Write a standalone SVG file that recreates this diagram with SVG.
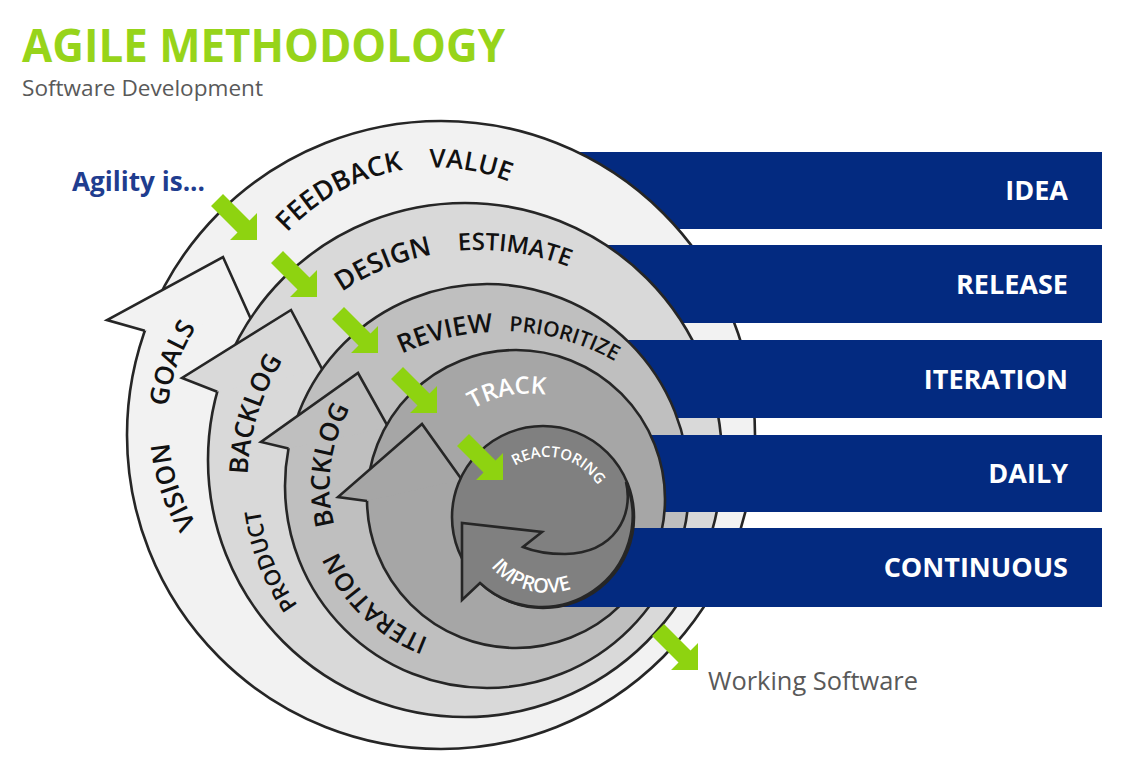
<svg xmlns="http://www.w3.org/2000/svg" width="1133" height="782" viewBox="0 0 1133 782">
<defs>
<style>
.ring{stroke:#262626;stroke-width:2.6}
.edge{fill:none;stroke:#262626;stroke-width:2.6;stroke-linejoin:miter}
.nf{stroke:none}
.l1{fill:#f2f2f2}.l2{fill:#d9d9d9}.l3{fill:#bfbfbf}.l4{fill:#a6a6a6}.l5{fill:#808080}
.bar{fill:#032a80}
.bartxt{font-family:"Open Sans","Liberation Sans",sans-serif;font-weight:700;font-size:27px;fill:#fff;text-anchor:end}
.lbl{font-family:"Open Sans","Liberation Sans",sans-serif;font-weight:600;fill:#111;text-anchor:middle}
.wl{fill:#fff}
.garrow{fill:#8ed310}
</style>
<path id="ga" d="M0,0 L-27,0 L-19.5,-7.5 L-46,-34 L-34,-46 L-7.5,-19.5 L0,-27 Z"/>
<path id="p200" d="M-188.41,-68.58 A200.5,200.5 0 0 1 188.41,-68.58"/>
<path id="p182" d="M-171.49,-62.42 A182.5,182.5 0 0 1 171.49,-62.42"/>
<path id="p245" d="M-230.22,-83.79 A245,245 0 0 1 230.22,-83.79"/>
<path id="p226" d="M-212.84,-77.47 A226.5,226.5 0 0 1 212.84,-77.47"/>
<path id="p218" d="M-204.85,-74.56 A218,218 0 0 1 204.85,-74.56"/>
<path id="p232" d="M-218.01,-79.35 A232,232 0 0 1 218.01,-79.35"/>
<path id="p233" d="M-218.95,-79.69 A233,233 0 0 1 218.95,-79.69"/>
<path id="p157" d="M-148,-53.87 A157.5,157.5 0 0 1 148,-53.87"/>
<path id="p163" d="M-153.17,-55.75 A163,163 0 0 1 153.17,-55.75"/>
<path id="p108" d="M-101.96,-37.11 A108.5,108.5 0 0 1 101.96,-37.11"/>
<path id="p60" d="M-56.95,-20.73 A60.6,60.6 0 0 1 56.95,-20.73"/>
<path id="p74ccw" d="M-69.54,25.31 A74,74 0 0 0 69.54,25.31"/>
</defs>

<rect width="1133" height="782" fill="#ffffff"/>

<g id="title">
<text x="22" y="62" font-family="'Open Sans','Liberation Sans',sans-serif" font-weight="700" font-size="46" fill="#97d41a" textLength="483" lengthAdjust="spacingAndGlyphs">AGILE METHODOLOGY</text>
<text x="22" y="96" font-family="'Open Sans','Liberation Sans',sans-serif" font-size="21" fill="#595959" textLength="241" lengthAdjust="spacingAndGlyphs">Software Development</text>
</g>

<g id="agility">
<text x="72" y="191" font-family="'Open Sans','Liberation Sans',sans-serif" font-weight="700" font-size="26" fill="#1f3d8f" textLength="133" lengthAdjust="spacingAndGlyphs">Agility is...</text>
</g>

<g id="bar-idea">
<rect class="bar" x="575" y="152" width="527" height="77"/>
<text class="bartxt" x="1068" y="200">IDEA</text>
</g>

<g id="level1">
<circle class="l1 ring" cx="441" cy="435" r="314"/>
<polygon class="l1 nf" points="144.8,330.7 107,320 223,257 251.2,319.7"/>
<polyline class="edge" points="144.8,330.7 107,320 223,257 251.2,319.7"/>
<text class="lbl" font-size="27" transform="translate(435,368) rotate(-28.3)"><textPath href="#p200" startOffset="50%">FEEDBACK</textPath></text>
<text class="lbl" font-size="26" transform="translate(435,368) rotate(10)"><textPath href="#p200" startOffset="50%">VALUE</textPath></text>
<text class="lbl" font-size="26" transform="translate(349,427) rotate(-70.2)"><textPath href="#p182" startOffset="50%">GOALS</textPath></text>
<text class="lbl" font-size="26" transform="translate(351,427) rotate(-108.6)"><textPath href="#p182" startOffset="50%">VISION</textPath></text>
</g>

<g id="bar-release">
<rect class="bar" x="604" y="245" width="498" height="78"/>
<text class="bartxt" x="1068" y="294">RELEASE</text>
</g>

<g id="level2">
<circle class="l2 ring" cx="465" cy="460" r="257"/>
<polygon class="l2 nf" points="217.2,391.7 182,378 291,310 322.4,369.7"/>
<polyline class="edge" points="217.2,391.7 182,378 291,310 322.4,369.7"/>
<text class="lbl" font-size="27" transform="translate(479,495) rotate(-22.5)"><textPath href="#p245" startOffset="50%">DESIGN</textPath></text>
<text class="lbl" font-size="24" transform="translate(479,495) rotate(8.3)"><textPath href="#p245" startOffset="50%">ESTIMATE</textPath></text>
<text class="lbl" font-size="26" transform="translate(474,482) rotate(-72.8)"><textPath href="#p226" startOffset="50%">BACKLOG</textPath></text>
<text class="lbl" font-size="22" transform="translate(476,480) rotate(-111.5)"><textPath href="#p218" startOffset="50%">PRODUCT</textPath></text>
</g>

<g id="bar-iteration">
<rect class="bar" x="625" y="340" width="477" height="78"/>
<text class="bartxt" x="1068" y="389">ITERATION</text>
</g>

<g id="level3">
<circle class="l3 ring" cx="487" cy="486" r="202"/>
<polygon class="l3 nf" points="288.5,448.5 261,442 358,373 388.5,427.6"/>
<polyline class="edge" points="288.5,448.5 261,442 358,373 388.5,427.6"/>
<text class="lbl" font-size="26" transform="translate(500,564) rotate(-13.4)"><textPath href="#p232" startOffset="50%">REVIEW</textPath></text>
<text class="lbl" font-size="21" transform="translate(500,564) rotate(15.9)"><textPath href="#p233" startOffset="50%">PRIORITIZE</textPath></text>
<text class="lbl" font-size="26" transform="translate(487,486) rotate(-82.4)"><textPath href="#p157" startOffset="50%">BACKLOG</textPath></text>
<text class="lbl" font-size="25" transform="translate(487,486) rotate(-136.3)"><textPath href="#p163" startOffset="50%">ITERATION</textPath></text>
</g>

<g id="bar-daily">
<rect class="bar" x="648" y="435" width="454" height="77"/>
<text class="bartxt" x="1068" y="483">DAILY</text>
</g>

<g id="level4">
<circle class="l4 ring" cx="516" cy="499" r="149"/>
<polygon class="l4 nf" points="367,501 338,497 422,424 461.7,479.4"/>
<polyline class="edge" points="367,501 338,497 422,424 461.7,479.4"/>
<text class="lbl wl" font-size="24" transform="translate(529,502) rotate(-11.2)"><textPath href="#p108" startOffset="50%">TRACK</textPath></text>
</g>

<g id="bar-continuous">
<rect class="bar" x="560" y="528" width="542" height="79"/>
<text class="bartxt" x="1068" y="577">CONTINUOUS</text>
</g>

<g id="level5">
<circle class="l5 ring" cx="543" cy="517" r="91"/>
<path class="l5 ring" stroke-linejoin="miter" d="M626,482 C634,515 615,553 565,554 Q540,554 523,547 L542,532 L462,523 L462,600 L480,583 A91,91 0 0 0 626,482 Z"/>
<text class="lbl wl" font-size="15" transform="translate(546.5,517.5) rotate(13.1)"><textPath href="#p60" startOffset="50%">REACTORING</textPath></text>
<text class="lbl wl" font-size="20" transform="translate(547.5,518.8) rotate(15.5)"><textPath href="#p74ccw" startOffset="50%">IMPROVE</textPath></text>
</g>

<g id="connectors">
<use href="#ga" class="garrow" transform="translate(257,240)"/>
<use href="#ga" class="garrow" transform="translate(317,297)"/>
<use href="#ga" class="garrow" transform="translate(378,353)"/>
<use href="#ga" class="garrow" transform="translate(437,413)"/>
<use href="#ga" class="garrow" transform="translate(503,480)"/>
<use href="#ga" class="garrow" transform="translate(698,670)"/>
</g>

<g id="working-software">
<text x="708" y="690" font-family="'Open Sans','Liberation Sans',sans-serif" font-size="25" fill="#595959" textLength="210" lengthAdjust="spacingAndGlyphs">Working Software</text>
</g>
</svg>
